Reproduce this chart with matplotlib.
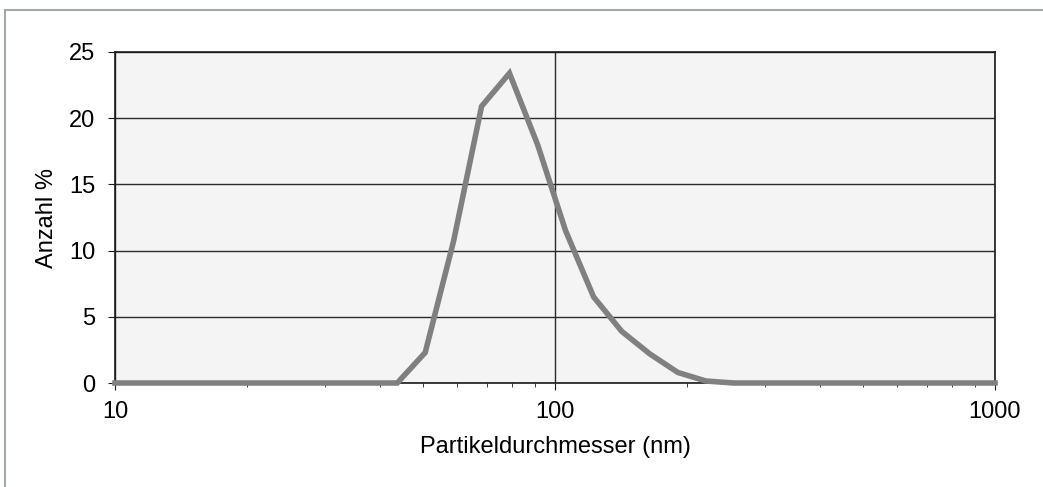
import matplotlib.pyplot as plt
from matplotlib.patches import Rectangle
from matplotlib.ticker import LogLocator, NullFormatter, FixedLocator

plt.rcParams['font.family'] = ['Liberation Sans', 'DejaVu Sans']

# particle size (nm) and number distribution (%)
size_nm = [10, 37.8, 43.8, 50.7, 58.8, 68.1, 78.8, 91.3, 105.7, 122.4,
           141.8, 164.2, 190.1, 220.2, 255.0, 1000]
anzahl = [0, 0, 0, 2.3, 10.7, 20.9, 23.4, 18.0, 11.5, 6.5,
          3.9, 2.2, 0.8, 0.15, 0, 0]

y_ticks = [0, 5, 10, 15, 20, 25]
x_ticks = [10, 100, 1000]
x_labels = ['10', '100', '1000']

fig = plt.figure(figsize=(10.43, 4.87), dpi=100)
# light outer frame (only top/left edges show)
fig.patches.append(Rectangle((5 / 1043, -0.1), 1.2, 1 - 10 / 487 + 0.1,
                             transform=fig.transFigure, fill=False,
                             edgecolor='#a3aaaa', linewidth=1.5))

ax = fig.add_axes([115 / 1043, 1 - 383 / 487, 880 / 1043, 331 / 487])
ax.set_facecolor('#f4f4f4')

ax.plot(size_nm, anzahl, color='#808080', linewidth=4, solid_joinstyle='miter',
        clip_on=False, zorder=3)

ax.set_xscale('log')
ax.set_xlim(10, 1000)
ax.set_ylim(0, 25)
ax.xaxis.set_major_locator(FixedLocator(x_ticks))
ax.set_xticklabels(x_labels)
ax.xaxis.set_minor_locator(LogLocator(base=10, subs=range(2, 10)))
ax.xaxis.set_minor_formatter(NullFormatter())
ax.set_yticks(y_ticks)

ax.grid(axis='y', color='#2a2a2a', linewidth=1)
ax.grid(axis='x', which='major', color='#2a2a2a', linewidth=1)
ax.set_axisbelow(True)

for side in ['left', 'right', 'top', 'bottom']:
    ax.spines[side].set_color('#1a1a1a')
    ax.spines[side].set_linewidth(1.2)

ax.tick_params(axis='both', which='major', labelsize=17, direction='out',
               length=5, color='#1a1a1a')
ax.tick_params(axis='y', which='major', pad=9)
ax.tick_params(axis='x', which='major', pad=8)
ax.tick_params(axis='x', which='minor', direction='out', length=3, color='#1a1a1a')

ax.set_xlabel('Partikeldurchmesser (nm)', fontsize=17, labelpad=9)
ax.set_ylabel('Anzahl %', fontsize=17, labelpad=8)

fig.savefig('out.png', dpi=100)
